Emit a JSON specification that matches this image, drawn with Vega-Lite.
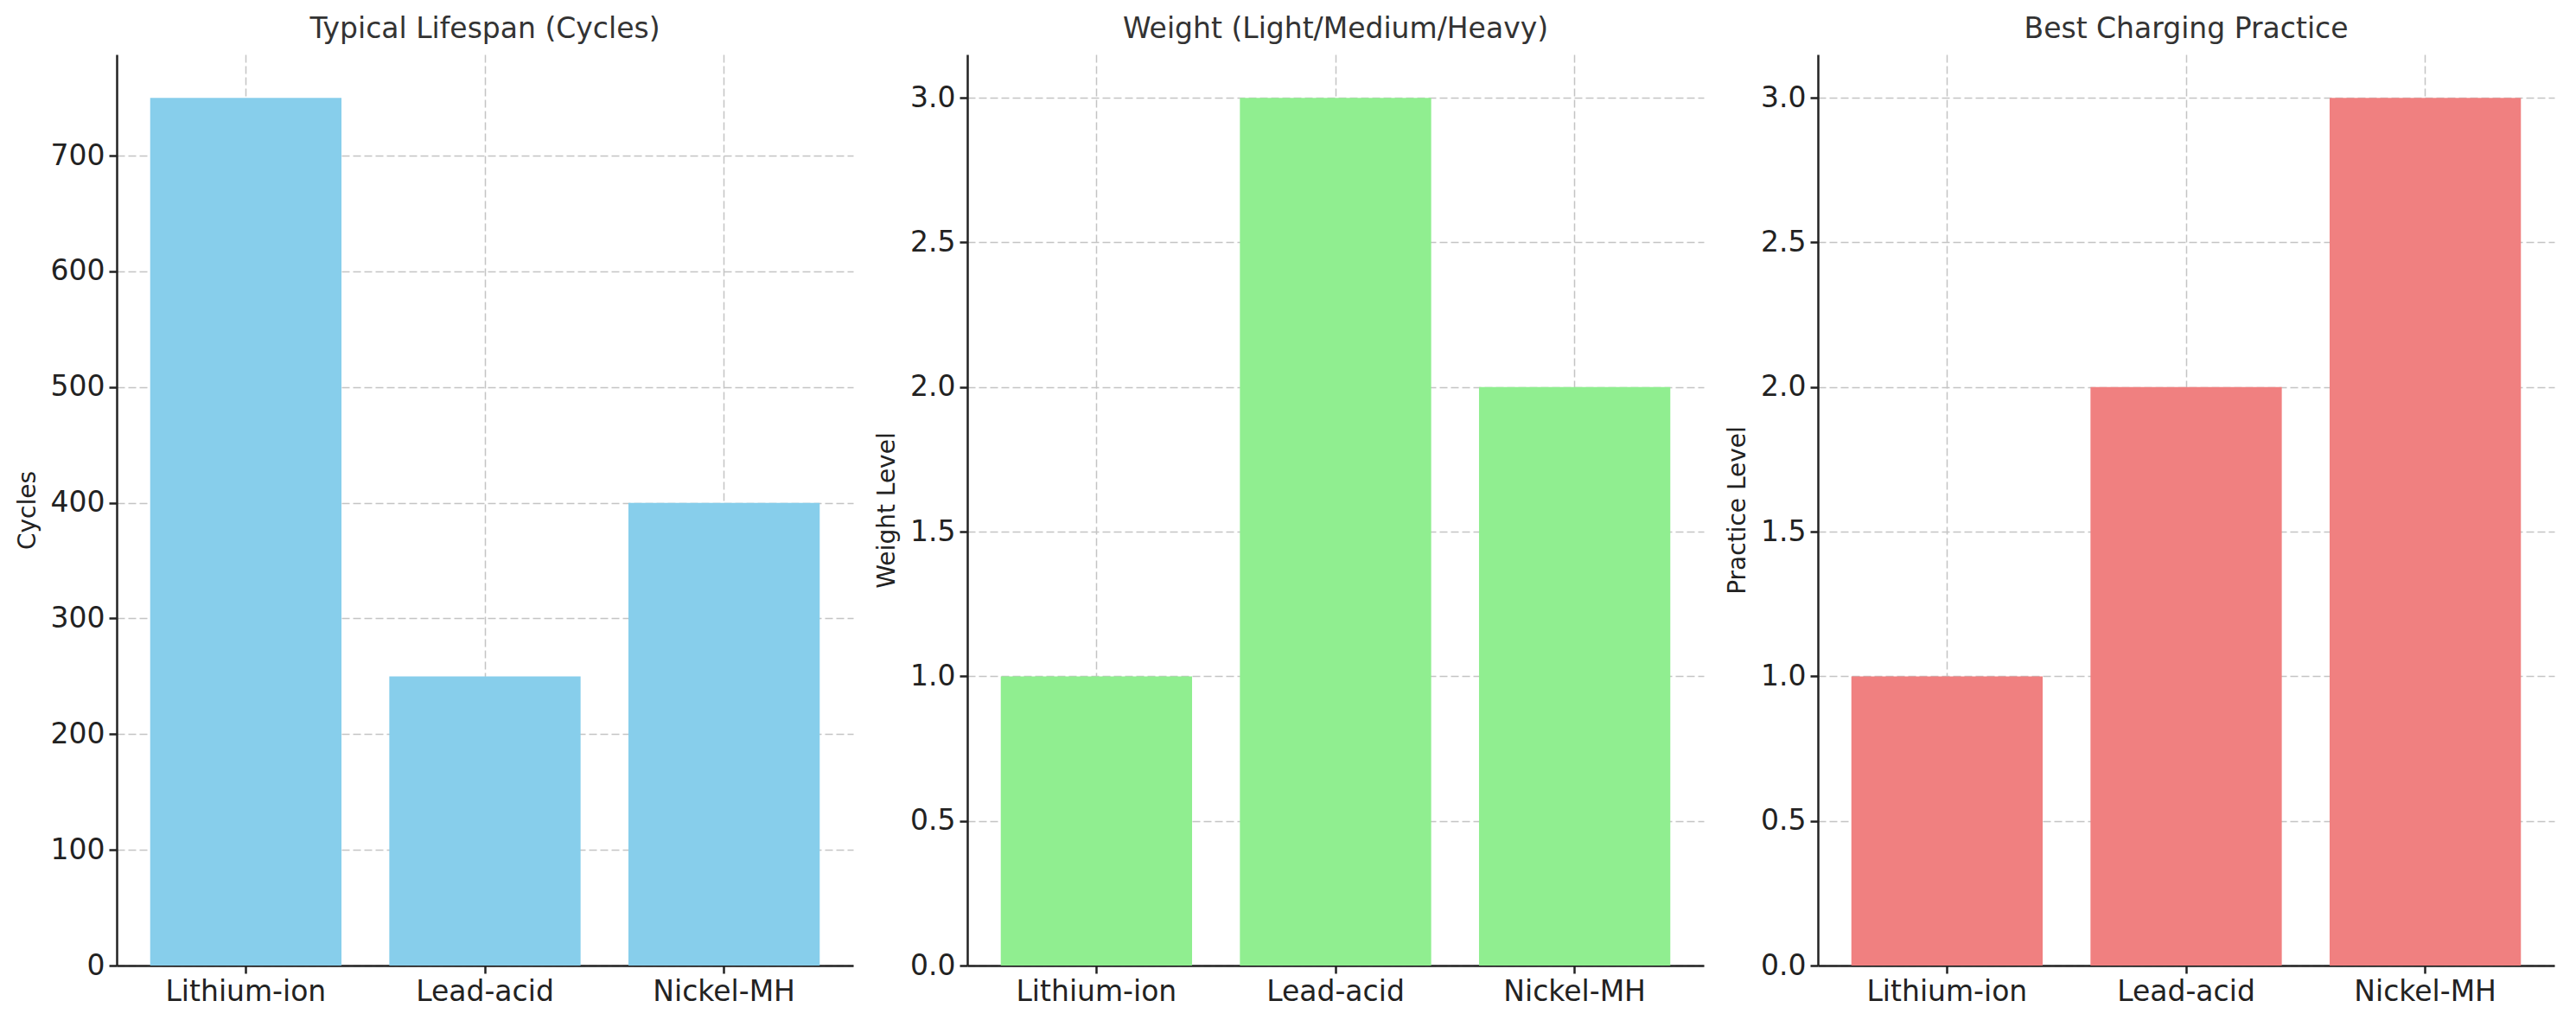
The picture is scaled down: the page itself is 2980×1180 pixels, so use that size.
{
  "$schema": "https://vega.github.io/schema/vega-lite/v6.json",
  "description": "Battery comparison: lifespan, weight and charging practice, three bar panels.",
  "background": "white",
  "padding": {"left": 18, "top": 18, "right": 5, "bottom": 5},
  "data": {
    "values": [
      {"battery": "Lithium-ion", "cycles": 750, "weight": 1, "practice": 1},
      {"battery": "Lead-acid", "cycles": 250, "weight": 3, "practice": 2},
      {"battery": "Nickel-MH", "cycles": 400, "weight": 2, "practice": 3}
    ]
  },
  "bounds": "flush",
  "spacing": 132,
  "hconcat": [
    {
      "width": 852,
      "height": 1054,
      "title": "Typical Lifespan (Cycles)",
      "mark": {"type": "bar", "color": "#87CEEB"},
      "encoding": {
        "x": {
          "field": "battery",
          "type": "nominal",
          "sort": null,
          "title": null,
          "scale": {"paddingInner": 0.2, "paddingOuter": 0.14}
        },
        "y": {
          "field": "cycles",
          "type": "quantitative",
          "title": "Cycles",
          "scale": {"domain": [0, 787.5], "nice": false},
          "axis": {"values": [0, 100, 200, 300, 400, 500, 600, 700], "format": "d"}
        }
      }
    },
    {
      "width": 852,
      "height": 1054,
      "title": "Weight (Light/Medium/Heavy)",
      "mark": {"type": "bar", "color": "#90EE90"},
      "encoding": {
        "x": {
          "field": "battery",
          "type": "nominal",
          "sort": null,
          "title": null,
          "scale": {"paddingInner": 0.2, "paddingOuter": 0.14}
        },
        "y": {
          "field": "weight",
          "type": "quantitative",
          "title": "Weight Level",
          "scale": {"domain": [0, 3.15], "nice": false},
          "axis": {"values": [0, 0.5, 1, 1.5, 2, 2.5, 3], "format": ".1f"}
        }
      }
    },
    {
      "width": 852,
      "height": 1054,
      "title": "Best Charging Practice",
      "mark": {"type": "bar", "color": "#F08080"},
      "encoding": {
        "x": {
          "field": "battery",
          "type": "nominal",
          "sort": null,
          "title": null,
          "scale": {"paddingInner": 0.2, "paddingOuter": 0.14}
        },
        "y": {
          "field": "practice",
          "type": "quantitative",
          "title": "Practice Level",
          "scale": {"domain": [0, 3.15], "nice": false},
          "axis": {"values": [0, 0.5, 1, 1.5, 2, 2.5, 3], "format": ".1f"}
        }
      }
    }
  ],
  "config": {
    "view": {"stroke": null},
    "axis": {
      "domainColor": "#222222",
      "domainWidth": 2.5,
      "tickColor": "#222222",
      "tickWidth": 2.5,
      "tickSize": 9,
      "labelFont": "DejaVu Sans",
      "labelFontSize": 33,
      "labelColor": "#222222",
      "labelPadding": 5,
      "labelLimit": 0,
      "titleFont": "DejaVu Sans",
      "titleFontSize": 28,
      "titleFontWeight": "normal",
      "titleColor": "#222222",
      "grid": true,
      "gridColor": "#c4c4c4",
      "gridDash": [9, 4],
      "gridWidth": 1.5,
      "zindex": 1
    },
    "axisX": {"labelAngle": 0, "bandPosition": 0.5},
    "axisY": {"titlePadding": 12},
    "title": {
      "font": "DejaVu Sans",
      "fontSize": 33,
      "fontWeight": "normal",
      "color": "#333333",
      "offset": 12
    }
  }
}
